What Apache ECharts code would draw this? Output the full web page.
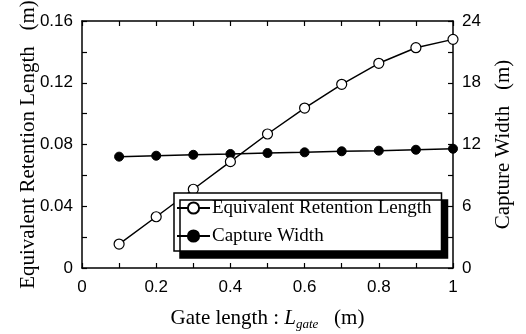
<!DOCTYPE html>
<html>
<head>
<meta charset="utf-8">
<script src="https://cdn.jsdelivr.net/npm/echarts@6/dist/echarts.min.js"></script>
<style>html,body{margin:0;padding:0;background:#fff}#c{width:526px;height:334px}</style>
</head>
<body>
<div id="c"></div>
<script>
const gateLength = [0.1, 0.2, 0.3, 0.4, 0.5, 0.6, 0.7, 0.8, 0.9, 1.0];
const retentionLength = [0.0155, 0.0332, 0.0510, 0.0689, 0.0868, 0.1036, 0.1190, 0.1326, 0.1427, 0.1481];
const captureWidth = [10.82, 10.91, 11.00, 11.08, 11.17, 11.24, 11.34, 11.40, 11.49, 11.59];
const seriesNames = ['Equivalent Retention Length', 'Capture Width'];
const xTickLabels = ['0', '0.2', '0.4', '0.6', '0.8', '1'];
const leftTickLabels = ['0', '0.04', '0.08', '0.12', '0.16'];
const rightTickLabels = ['0', '6', '12', '18', '24'];

const serif = 'Liberation Serif, Times New Roman, serif';
const sans = 'Liberation Sans, Arial, sans-serif';
const axisLine = () => ({ show: true, onZero: false, lineStyle: { color: '#000', width: 1.5 } });
const tick = () => ({ show: true, inside: true, length: 5, lineStyle: { color: '#000', width: 1.2 } });
const label = { color: '#000', fontFamily: sans, fontSize: 17 };
// show a label only at every second tick (ticks are at half the label step)
function everyOther(labels, step) {
  return v => {
    const k = Math.round(v / step);
    return k % 2 === 0 ? labels[k / 2] : '';
  };
}

const chart = echarts.init(document.getElementById('c'), null, { renderer: 'canvas' });
chart.setOption({
  animation: false,
  backgroundColor: '#fff',
  grid: { left: 82, right: 73, top: 21, bottom: 66, containLabel: false, outerBoundsMode: 'none' },
  legend: {
    orient: 'vertical',
    left: 174, top: 193,
    padding: [5, 10, 5, 2],
    itemGap: 8,
    itemWidth: 33, itemHeight: 14,
    backgroundColor: '#fff',
    borderColor: '#000', borderWidth: 1.5, borderRadius: 0,
    shadowColor: '#000', shadowBlur: 0, shadowOffsetX: 6, shadowOffsetY: 7,
    textStyle: { color: '#000', fontFamily: serif, fontSize: 19, lineHeight: 20, padding: [0, 0, 0, -3] },
    data: seriesNames
  },
  xAxis: [{
    type: 'value', min: 0, max: 1, interval: 0.1,
    name: '{n|Gate length : }{i|L}{s|gate}{n|   (m)}',
    nameLocation: 'middle', nameGap: 38, nameMoveOverlap: false,
    nameTextStyle: {
      rich: {
        n: { fontFamily: serif, fontSize: 21, color: '#000' },
        i: { fontFamily: serif, fontSize: 21, fontStyle: 'italic', color: '#000' },
        s: { fontFamily: serif, fontSize: 13, fontStyle: 'italic', color: '#000', verticalAlign: 'bottom', padding: [12, 0, 0, 0] }
      }
    },
    axisLine: axisLine(), axisTick: tick(),
    axisLabel: Object.assign({ margin: 11, formatter: everyOther(xTickLabels, 0.1) }, label),
    splitLine: { show: false }
  }, {
    type: 'value', min: 0, max: 1, interval: 0.1, position: 'top',
    axisLine: axisLine(), axisTick: tick(),
    axisLabel: { show: false }, splitLine: { show: false }
  }],
  yAxis: [{
    type: 'value', min: 0, max: 0.16, interval: 0.02,
    name: 'Equivalent Retention Length   (m)',
    nameLocation: 'middle', nameGap: 43, nameMoveOverlap: false,
    nameTextStyle: { fontFamily: serif, fontSize: 21, color: '#000' },
    axisLine: axisLine(), axisTick: tick(),
    axisLabel: Object.assign({ margin: 9, formatter: everyOther(leftTickLabels, 0.02) }, label),
    splitLine: { show: false }
  }, {
    type: 'value', min: 0, max: 24, interval: 3, position: 'right',
    name: 'Capture Width   (m)',
    nameLocation: 'middle', nameGap: 40, nameMoveOverlap: false,
    nameTextStyle: { fontFamily: serif, fontSize: 21, color: '#000' },
    axisLine: axisLine(), axisTick: tick(),
    axisLabel: Object.assign({ margin: 9, formatter: everyOther(rightTickLabels, 3) }, label),
    splitLine: { show: false }
  }],
  series: [{
    name: seriesNames[0], type: 'line', xAxisIndex: 0, yAxisIndex: 0,
    data: gateLength.map((x, i) => [x, retentionLength[i]]),
    symbol: 'circle', symbolSize: 10,
    lineStyle: { color: '#000', width: 1.5 },
    itemStyle: { color: '#fff', borderColor: '#000', borderWidth: 1.2 },
    z: 3
  }, {
    name: seriesNames[1], type: 'line', xAxisIndex: 0, yAxisIndex: 1,
    data: gateLength.map((x, i) => [x, captureWidth[i]]),
    symbol: 'circle', symbolSize: 9,
    lineStyle: { color: '#000', width: 1.5 },
    itemStyle: { color: '#000', borderColor: '#000', borderWidth: 1 },
    z: 2
  }]
});
</script>
</body>
</html>
